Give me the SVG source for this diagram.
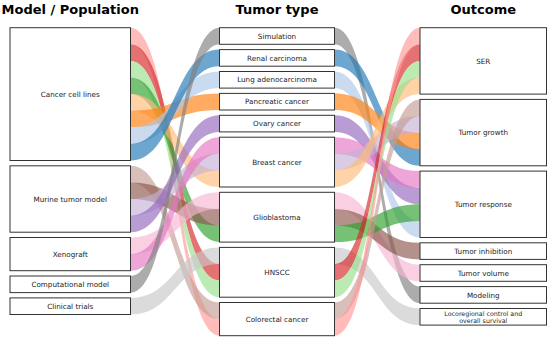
<svg xmlns="http://www.w3.org/2000/svg" width="550" height="340" viewBox="0 0 550 340">
<style>
.f{opacity:0.65;stroke:none}
.c0{fill:#ff9896}.c1{fill:#d62728}.c2{fill:#98df8a}.c3{fill:#2ca02c}
.c4{fill:#ffbb78}.c5{fill:#ff7f0e}.c6{fill:#aec7e8}.c7{fill:#1f77b4}
.c8{fill:#c49c94}.c9{fill:#8c564b}.c10{fill:#c5b0d5}.c11{fill:#9467bd}
.c12{fill:#f7b6d2}.c13{fill:#e377c2}.c14{fill:#7f7f7f}.c15{fill:#c7c7c7}
.box{fill:#ffffff;stroke:#333333;stroke-width:1}
.lbl{font-family:"DejaVu Sans",sans-serif;font-size:7.2px;fill:#222222;text-anchor:middle}
.sm{font-size:6.3px}
.ttl{font-family:"DejaVu Sans",sans-serif;font-size:13px;font-weight:bold;fill:#000000;text-anchor:middle}
</style>
<rect width="550" height="340" fill="#ffffff"/>
<g id="titles">
<text class="ttl" x="70.25" y="13.5">Model / Population</text>
<text class="ttl" x="277" y="13.5">Tumor type</text>
<text class="ttl" x="483.25" y="13.5">Outcome</text>
</g>
<g id="connectors">
<path class="f c0" d="M130.5,27.7 C175,27.7 175,319.1 219.5,319.1 L219.5,335.7 C175,335.7 175,44.3 130.5,44.3 Z"/>
<path class="f c1" d="M130.5,44.3 C175,44.3 175,264 219.5,264 L219.5,280.6 C175,280.6 175,60.9 130.5,60.9 Z"/>
<path class="f c2" d="M130.5,60.9 C175,60.9 175,280.6 219.5,280.6 L219.5,297.2 C175,297.2 175,77.5 130.5,77.5 Z"/>
<path class="f c3" d="M130.5,77.5 C175,77.5 175,225.5 219.5,225.5 L219.5,242.1 C175,242.1 175,94.1 130.5,94.1 Z"/>
<path class="f c4" d="M130.5,94.1 C175,94.1 175,170.4 219.5,170.4 L219.5,187 C175,187 175,110.7 130.5,110.7 Z"/>
<path class="f c5" d="M130.5,110.7 C175,110.7 175,93.4 219.5,93.4 L219.5,110 C175,110 175,127.3 130.5,127.3 Z"/>
<path class="f c6" d="M130.5,127.3 C175,127.3 175,71.5 219.5,71.5 L219.5,88.1 C175,88.1 175,143.9 130.5,143.9 Z"/>
<path class="f c7" d="M130.5,143.9 C175,143.9 175,49.6 219.5,49.6 L219.5,66.2 C175,66.2 175,160.5 130.5,160.5 Z"/>
<path class="f c8" d="M130.5,165.8 C175,165.8 175,302.5 219.5,302.5 L219.5,319.1 C175,319.1 175,182.4 130.5,182.4 Z"/>
<path class="f c9" d="M130.5,182.4 C175,182.4 175,208.9 219.5,208.9 L219.5,225.5 C175,225.5 175,199 130.5,199 Z"/>
<path class="f c10" d="M130.5,199 C175,199 175,153.8 219.5,153.8 L219.5,170.4 C175,170.4 175,215.6 130.5,215.6 Z"/>
<path class="f c11" d="M130.5,215.6 C175,215.6 175,115.3 219.5,115.3 L219.5,131.9 C175,131.9 175,232.2 130.5,232.2 Z"/>
<path class="f c12" d="M130.5,237.5 C175,237.5 175,192.3 219.5,192.3 L219.5,208.9 C175,208.9 175,254.1 130.5,254.1 Z"/>
<path class="f c13" d="M130.5,254.1 C175,254.1 175,137.2 219.5,137.2 L219.5,153.8 C175,153.8 175,270.7 130.5,270.7 Z"/>
<path class="f c14" d="M130.5,276 C175,276 175,27.7 219.5,27.7 L219.5,44.3 C175,44.3 175,292.6 130.5,292.6 Z"/>
<path class="f c15" d="M130.5,297.9 C175,297.9 175,247.4 219.5,247.4 L219.5,264 C175,264 175,314.5 130.5,314.5 Z"/>

<path class="f c14" d="M334.5,27.7 C377.25,27.7 377.25,286.6 420,286.6 L420,303.2 C377.25,303.2 377.25,44.3 334.5,44.3 Z"/>
<path class="f c7" d="M334.5,49.6 C377.25,49.6 377.25,149.2 420,149.2 L420,165.8 C377.25,165.8 377.25,66.2 334.5,66.2 Z"/>
<path class="f c6" d="M334.5,71.5 C377.25,71.5 377.25,220.9 420,220.9 L420,237.5 C377.25,237.5 377.25,88.1 334.5,88.1 Z"/>
<path class="f c5" d="M334.5,93.4 C377.25,93.4 377.25,132.6 420,132.6 L420,149.2 C377.25,149.2 377.25,110 334.5,110 Z"/>
<path class="f c11" d="M334.5,115.3 C377.25,115.3 377.25,187.7 420,187.7 L420,204.3 C377.25,204.3 377.25,131.9 334.5,131.9 Z"/>
<path class="f c13" d="M334.5,137.2 C377.25,137.2 377.25,171.1 420,171.1 L420,187.7 C377.25,187.7 377.25,153.8 334.5,153.8 Z"/>
<path class="f c10" d="M334.5,153.8 C377.25,153.8 377.25,116 420,116 L420,132.6 C377.25,132.6 377.25,170.4 334.5,170.4 Z"/>
<path class="f c4" d="M334.5,170.4 C377.25,170.4 377.25,77.5 420,77.5 L420,94.1 C377.25,94.1 377.25,187 334.5,187 Z"/>
<path class="f c12" d="M334.5,192.3 C377.25,192.3 377.25,264.7 420,264.7 L420,281.3 C377.25,281.3 377.25,208.9 334.5,208.9 Z"/>
<path class="f c9" d="M334.5,208.9 C377.25,208.9 377.25,242.8 420,242.8 L420,259.4 C377.25,259.4 377.25,225.5 334.5,225.5 Z"/>
<path class="f c3" d="M334.5,225.5 C377.25,225.5 377.25,204.3 420,204.3 L420,220.9 C377.25,220.9 377.25,242.1 334.5,242.1 Z"/>
<path class="f c15" d="M334.5,247.4 C377.25,247.4 377.25,308.5 420,308.5 L420,325.1 C377.25,325.1 377.25,264 334.5,264 Z"/>
<path class="f c1" d="M334.5,264 C377.25,264 377.25,44.3 420,44.3 L420,60.9 C377.25,60.9 377.25,280.6 334.5,280.6 Z"/>
<path class="f c2" d="M334.5,280.6 C377.25,280.6 377.25,60.9 420,60.9 L420,77.5 C377.25,77.5 377.25,297.2 334.5,297.2 Z"/>
<path class="f c8" d="M334.5,302.5 C377.25,302.5 377.25,99.4 420,99.4 L420,116 C377.25,116 377.25,319.1 334.5,319.1 Z"/>
<path class="f c0" d="M334.5,319.1 C377.25,319.1 377.25,27.7 420,27.7 L420,44.3 C377.25,44.3 377.25,335.7 334.5,335.7 Z"/>
</g>
<g id="n-cancer-cell-lines"><rect class="box" x="10" y="27.7" width="120.5" height="132.8"/><text class="lbl" x="70.25" y="96.7">Cancer cell lines</text></g>
<g id="n-murine"><rect class="box" x="10" y="165.8" width="120.5" height="66.4"/><text class="lbl" x="70.25" y="201.6">Murine tumor model</text></g>
<g id="n-xenograft"><rect class="box" x="10" y="237.5" width="120.5" height="33.2"/><text class="lbl" x="70.25" y="256.7">Xenograft</text></g>
<g id="n-computational"><rect class="box" x="10" y="276" width="120.5" height="16.6"/><text class="lbl" x="70.25" y="286.9">Computational model</text></g>
<g id="n-clinical"><rect class="box" x="10" y="297.9" width="120.5" height="16.6"/><text class="lbl" x="70.25" y="308.8">Clinical trials</text></g>

<g id="n-simulation"><rect class="box" x="219.5" y="27.7" width="115" height="16.6"/><text class="lbl" x="277" y="38.6">Simulation</text></g>
<g id="n-renal"><rect class="box" x="219.5" y="49.6" width="115" height="16.6"/><text class="lbl" x="277" y="60.5">Renal carcinoma</text></g>
<g id="n-lung"><rect class="box" x="219.5" y="71.5" width="115" height="16.6"/><text class="lbl" x="277" y="82.4">Lung adenocarcinoma</text></g>
<g id="n-pancreatic"><rect class="box" x="219.5" y="93.4" width="115" height="16.6"/><text class="lbl" x="277" y="104.3">Pancreatic cancer</text></g>
<g id="n-ovary"><rect class="box" x="219.5" y="115.3" width="115" height="16.6"/><text class="lbl" x="277" y="126.2">Ovary cancer</text></g>
<g id="n-breast"><rect class="box" x="219.5" y="137.2" width="115" height="49.8"/><text class="lbl" x="277" y="164.7">Breast cancer</text></g>
<g id="n-glioblastoma"><rect class="box" x="219.5" y="192.3" width="115" height="49.8"/><text class="lbl" x="277" y="219.8">Glioblastoma</text></g>
<g id="n-hnscc"><rect class="box" x="219.5" y="247.4" width="115" height="49.8"/><text class="lbl" x="277" y="274.9">HNSCC</text></g>
<g id="n-colorectal"><rect class="box" x="219.5" y="302.5" width="115" height="33.2"/><text class="lbl" x="277" y="321.7">Colorectal cancer</text></g>

<g id="n-ser"><rect class="box" x="420" y="27.7" width="126.5" height="66.4"/><text class="lbl" x="483.25" y="63.5">SER</text></g>
<g id="n-growth"><rect class="box" x="420" y="99.4" width="126.5" height="66.4"/><text class="lbl" x="483.25" y="135.2">Tumor growth</text></g>
<g id="n-response"><rect class="box" x="420" y="171.1" width="126.5" height="66.4"/><text class="lbl" x="483.25" y="206.9">Tumor response</text></g>
<g id="n-inhibition"><rect class="box" x="420" y="242.8" width="126.5" height="16.6"/><text class="lbl" x="483.25" y="253.7">Tumor inhibition</text></g>
<g id="n-volume"><rect class="box" x="420" y="264.7" width="126.5" height="16.6"/><text class="lbl" x="483.25" y="275.6">Tumor volume</text></g>
<g id="n-modeling"><rect class="box" x="420" y="286.6" width="126.5" height="16.6"/><text class="lbl" x="483.25" y="297.5">Modeling</text></g>
<g id="n-locoregional"><rect class="box" x="420" y="308.5" width="126.5" height="16.6"/><text class="lbl sm" x="483.25" y="315.6">Locoregional control and</text><text class="lbl sm" x="483.25" y="322.5">overall survival</text></g>
</svg>
